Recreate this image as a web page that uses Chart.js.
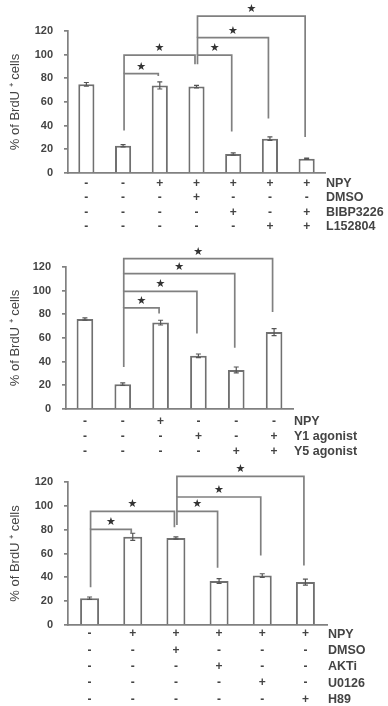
<!DOCTYPE html>
<html><head><meta charset="utf-8">
<script src="https://cdn.jsdelivr.net/npm/chart.js@4.4.0/dist/chart.umd.min.js"></script>
<style>
html,body{margin:0;padding:0;background:#fff;}
#wrap{position:relative;width:388px;height:706px;overflow:hidden;}
.p{position:absolute;left:0;width:388px;}
</style></head><body>
<div id="wrap">
<div class="p" style="top:0;height:236px"><canvas id="c1"></canvas></div>
<div class="p" style="top:236px;height:226px"><canvas id="c2"></canvas></div>
<div class="p" style="top:462px;height:244px"><canvas id="c3"></canvas></div>
</div>
<script>
// ---------- DATA ----------
const yTitle = '% of BrdU \u207A cells';

const p1Values = [75, 23, 74, 73, 16, 29, 12];
const p1Errors = [1.5, 1, 3, 1, 1, 1.5, 0.5];
const p1RowNames = ['NPY', 'DMSO', 'BIBP3226', 'L152804'];
const p1Rows = [
  ['-', '-', '+', '+', '+', '+', '+'],
  ['-', '-', '-', '+', '-', '-', '-'],
  ['-', '-', '-', '-', '+', '-', '+'],
  ['-', '-', '-', '-', '-', '+', '+']
];
// [fromBar, toBar, level, leftLegEnd, rightLegEnd]
const p1Brackets = [
  [1, 2, 84, 36, 82],
  [1, 3, 99.6, 84, 92],
  [3, 4, 99.6, 92, 35],
  [3, 5, 114.4, 99.6, 46],
  [3, 6, 132.6, 114.4, 30.5]
];

const p2Values = [76, 21, 73, 45, 33, 65];
const p2Errors = [1, 1, 2, 1.5, 2.5, 3];
const p2RowNames = ['NPY', 'Y1 agonist', 'Y5 agonist'];
const p2Rows = [
  ['-', '-', '+', '-', '-', '-'],
  ['-', '-', '-', '+', '-', '+'],
  ['-', '-', '-', '-', '+', '+']
];
const p2Brackets = [
  [1, 2, 85.4, 35.5, 80.6],
  [1, 3, 99.4, 85.4, 63.7],
  [1, 4, 114.4, 99.4, 51.8],
  [1, 5, 127, 114.4, 82]
];

const p3Values = [22.5, 74, 73, 37, 41.5, 36];
const p3Errors = [1, 3, 1, 2, 1.5, 2.5];
const p3RowNames = ['NPY', 'DMSO', 'AKTi', 'U0126', 'H89'];
const p3Rows = [
  ['-', '+', '+', '+', '+', '+'],
  ['-', '-', '+', '-', '-', '-'],
  ['-', '-', '-', '+', '-', '-'],
  ['-', '-', '-', '-', '+', '-'],
  ['-', '-', '-', '-', '-', '+']
];
const p3Brackets = [
  [0, 1, 80.2, 31.7, 77],
  [0, 2, 95.3, 80.2, 82],
  [2, 3, 95.3, 84, 48],
  [2, 4, 107.4, 95.3, 58.3],
  [2, 5, 124.8, 107.4, 49.9]
];

// ---------- DRAWING ----------
const FONT = "'Liberation Sans', Arial, sans-serif";
const LINE = '#808080';
const TEXT = '#444444';

const annotPlugin = {
  id: 'annot',
  afterDatasetsDraw(chart) {
    const o = chart.options.plugins.annot;
    const { ctx, scales: { x, y }, chartArea } = chart;
    ctx.save();
    // error bars
    const meta = chart.getDatasetMeta(0);
    ctx.strokeStyle = '#555';
    ctx.lineWidth = 1.2;
    o.values.forEach((v, i) => {
      const e = o.errors[i];
      const px = meta.data[i].x;
      const yt = y.getPixelForValue(v + e), yb = y.getPixelForValue(v - e);
      ctx.beginPath();
      ctx.moveTo(px, yt); ctx.lineTo(px, yb);
      ctx.moveTo(px - 2.5, yt); ctx.lineTo(px + 2.5, yt);
      ctx.moveTo(px - 2.5, yb); ctx.lineTo(px + 2.5, yb);
      ctx.stroke();
    });
    // brackets
    ctx.strokeStyle = LINE;
    ctx.lineWidth = 1.7;
    ctx.lineCap = 'butt';
    o.brackets.forEach(b => {
      const [f, t, lv, le, re] = b;
      const x1 = x.getPixelForValue(f) + 1, x2 = x.getPixelForValue(t) - 1.5;
      const yl = y.getPixelForValue(lv);
      ctx.beginPath();
      ctx.moveTo(x1, y.getPixelForValue(le));
      ctx.lineTo(x1, yl);
      ctx.lineTo(x2, yl);
      ctx.lineTo(x2, y.getPixelForValue(re));
      ctx.stroke();
      ctx.fillStyle = '#333';
      ctx.font = "11px 'DejaVu Sans', sans-serif";
      ctx.textAlign = 'center';
      ctx.textBaseline = 'alphabetic';
      ctx.fillText('\u2605', (x1 + x2) / 2, yl - 4);
    });
    // row names
    ctx.fillStyle = TEXT;
    ctx.font = 'bold 12.5px ' + FONT;
    ctx.textAlign = 'left';
    ctx.textBaseline = 'middle';
    o.rowNames.forEach((n, i) => {
      ctx.fillText(n, chartArea.right + 1, x.top + o.pad + o.lh * (i + 0.5));
    });
    ctx.restore();
  }
};

function makeChart(id, values, errors, rows, rowNames, brackets, g) {
  const labels = values.map((_, i) => rows.map(r => r[i]));
  return new Chart(document.getElementById(id), {
    type: 'bar',
    data: {
      labels: labels,
      datasets: [{
        data: values,
        backgroundColor: '#ffffff',
        borderColor: '#707070',
        borderWidth: 2,
        barPercentage: 0.44,
        categoryPercentage: 1
      }]
    },
    plugins: [annotPlugin],
    options: {
      responsive: true,
      maintainAspectRatio: false,
      animation: false,
      devicePixelRatio: 1,
      layout: { padding: { top: g.top, right: 388 - g.right, left: 0, bottom: 0 } },
      plugins: {
        legend: { display: false },
        tooltip: { enabled: false },
        annot: { values, errors, brackets, rowNames, lh: g.lh, pad: g.pad }
      },
      scales: {
        x: {
          offset: true,
          grid: { display: false, drawTicks: false },
          border: { color: LINE, width: 1.7 },
          ticks: {
            autoSkip: false, maxRotation: 0, minRotation: 0,
            color: TEXT, padding: g.pad,
            font: { family: FONT, size: 12, weight: 'bold', lineHeight: g.lh / 12 }
          },
          afterFit(s) { s.height = g.xh; }
        },
        y: {
          min: 0, max: 120,
          ticks: { stepSize: 20, color: TEXT, padding: 11, font: { family: FONT, size: 11, weight: 'bold' } },
          grid: { drawOnChartArea: false, drawTicks: true, tickLength: 4, color: LINE, lineWidth: 1.7 },
          border: { color: LINE, width: 1.7 },
          title: { display: true, text: yTitle, color: TEXT, font: { family: FONT, size: 13 }, padding: { top: 8, bottom: 0 } },
          afterFit(s) { s.width = g.left; }
        }
      }
    }
  });
}

makeChart('c1', p1Values, p1Errors, p1Rows, p1RowNames, p1Brackets,
  { top: 31, left: 68, right: 325, xh: 63, lh: 14.5, pad: 3 });
makeChart('c2', p2Values, p2Errors, p2Rows, p2RowNames, p2Brackets,
  { top: 31, left: 66, right: 293, xh: 53, lh: 14.7, pad: 5.5 });
makeChart('c3', p3Values, p3Errors, p3Rows, p3RowNames, p3Brackets,
  { top: 20, left: 68, right: 327, xh: 81, lh: 16.3, pad: 1 });
</script>
</body></html>
